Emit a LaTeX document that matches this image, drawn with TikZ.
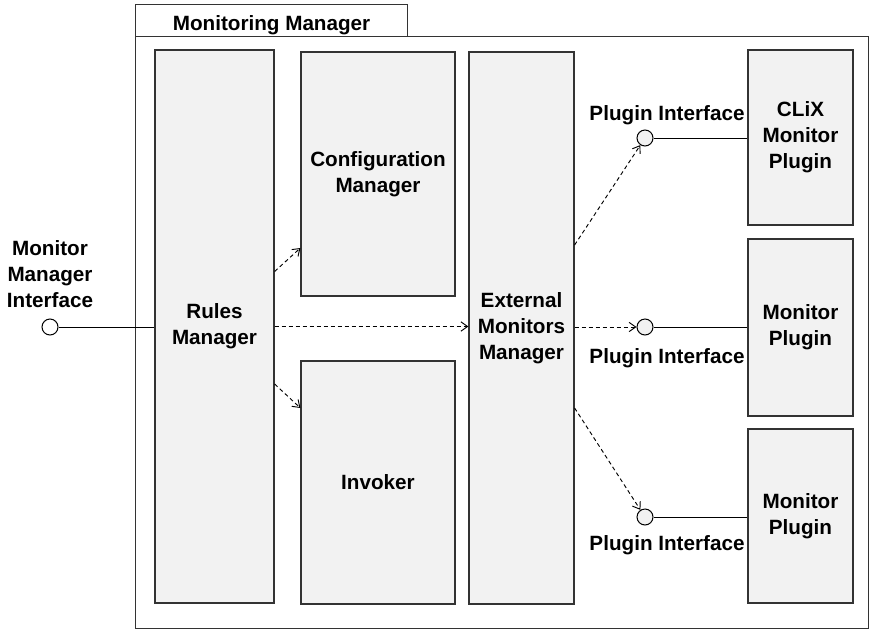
\documentclass[tikz,border=0pt]{standalone}
\usepackage{fontspec}
\setmainfont{Liberation Sans}
\usetikzlibrary{arrows.meta,calc}
\definecolor{boxfill}{HTML}{F2F2F2}
\definecolor{boxline}{HTML}{333333}
\begin{document}
\begin{tikzpicture}[x=0.75pt,y=-0.75pt,
  font=\bfseries\fontsize{15.5}{19.5}\selectfont,
  box/.style={draw=boxline, fill=boxfill, line width=0.9pt, inner sep=0pt, align=center},
  frm/.style={draw=boxline, line width=0.8pt, inner sep=0pt, anchor=north west},
  port/.style={circle, draw=black, line width=0.75pt, minimum size=12pt, inner sep=0pt},
  dep/.style={dash pattern=on 3pt off 2.25pt, line width=0.7pt, -{Straight Barb[length=5pt,width=7pt]}},
  wire/.style={line width=0.75pt},
  lbl/.style={align=center, inner sep=0pt}]
\useasboundingbox (0,0) rectangle (871,629);
% container
\node[frm, minimum width=549.75pt, minimum height=444pt] (frame) at (135,36) {};
\node[frm, minimum width=204pt, minimum height=24pt,
  label={[lbl, yshift=-3.5pt]center:Monitoring Manager}] (tab) at (135,4) {};
% components
\node[box, minimum width=89.25pt, minimum height=414.75pt] (rules) at (214.5,326.5) {Rules\\Manager};
\node[box, minimum width=115.5pt, minimum height=183pt] (cfg) at (378,174) {Configuration\\Manager};
\node[box, minimum width=115.5pt, minimum height=182.25pt] (inv) at (378,482.5) {Invoker};
\node[box, minimum width=78.75pt, minimum height=414pt] (ext) at (521.5,328) {External\\Monitors\\Manager};
\node[box, minimum width=78.75pt, minimum height=131.25pt] (clix) at (800.5,137.5) {CLiX\\Monitor\\Plugin};
\node[box, minimum width=78.75pt, minimum height=132.75pt] (mp2) at (800.5,327.5) {Monitor\\Plugin};
\node[box, minimum width=78.75pt, minimum height=130.5pt] (mp3) at (800.5,516) {Monitor\\Plugin};
% ports
\node[port, fill=white] (mmi) at (50,327) {};
\node[port, fill=boxfill] (c1) at (645,138) {};
\node[port, fill=boxfill] (c2) at (645,327) {};
\node[port, fill=boxfill] (c3) at (645,517) {};
% labels
\node[lbl] (mmil) at (50,274) {Monitor\\Manager\\Interface};
\node[lbl] (pl1) at (667,115) {Plugin Interface};
\node[lbl] (pl2) at (667,358) {Plugin Interface};
\node[lbl] (pl3) at (667,545) {Plugin Interface};
% solid wires
\draw[wire] (mmi) -- (rules.west |- mmi);
\draw[wire] (c1) -- (clix.west |- c1);
\draw[wire] (c2) -- (mp2.west |- c2);
\draw[wire] (c3) -- (mp3.west |- c3);
% dependencies
\draw[dep] ($(rules.east)+(0,-55)$) -- ($(cfg.west)+(0,74)$);
\draw[dep] (rules.east) -- (ext.west |- rules.east);
\draw[dep] ($(rules.east)+(0,57.5)$) -- ($(inv.west)+(0,-74.5)$);
\draw[dep] ($(ext.east)+(0,-83)$) -- (c1);
\draw[dep] (ext.east |- c2) -- (c2);
\draw[dep] ($(ext.east)+(0,80)$) -- (c3);
\end{tikzpicture}
\end{document}
